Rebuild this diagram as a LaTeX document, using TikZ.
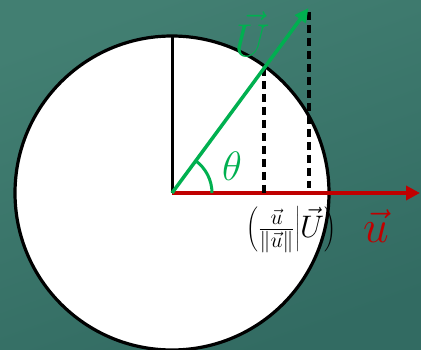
\documentclass[tikz,border=0pt]{standalone}
\usepackage{graphicx}
\usetikzlibrary{arrows.meta}
\definecolor{bgA}{RGB}{66,127,114}
\definecolor{bgB}{RGB}{50,107,98}
\definecolor{pgreen}{RGB}{0,176,80}
\definecolor{pred}{RGB}{192,0,0}
\tikzset{
  axis/.style={line width=3pt, black},
  vecU/.style={line width=3.5pt, pgreen, -{Triangle[length=14pt,width=13pt]}},
  vecu/.style={line width=4pt, pred, -{Triangle[length=14pt,width=14pt]}},
  proj/.style={line width=3.5pt, black, dash pattern=on 8pt off 5pt},
  lbl/.style={inner sep=0pt}
}
\begin{document}
\begin{tikzpicture}[x=1pt,y=-1pt]
\useasboundingbox (0,0) rectangle (421,350);
\shade[top color=bgA, bottom color=bgB, shading angle=20] (0,0) rectangle (421,350);
\coordinate (O) at (172,193);
\coordinate (N) at (172,37);
\coordinate (E) at (420,193);
\coordinate (T) at (308.5,8);
\coordinate (P) at (264,68);
\coordinate (Pf) at (264,196);
\coordinate (Tf) at (309,188);
\coordinate (Tt) at (309,12);
\fill[white] (O) circle (157);
\draw[line width=3.2pt] (O) circle (157);
\draw[axis] (O) -- (N);
\draw[vecu] (O) -- (E);
\draw[proj] (P) -- (Pf);
\draw[proj] (Tt) -- (Tf);
\draw[vecU] (O) -- (T);
\draw[pgreen, line width=3pt] ([shift={(40,0)}]O) arc[start angle=0, end angle=-53.7, radius=40];
\node[lbl, pgreen, font=\Huge] (lU) at (252,34) {\scalebox{1.85}{$\vec{U}$}};
\node[lbl, pgreen, font=\Huge] (lth) at (232,166) {\scalebox{1.65}{$\theta$}};
\node[lbl, pred, font=\Huge] (lu) at (376,226) {\scalebox{1.85}{$\vec{u}$}};
\node[lbl, black, font=\huge] (lp) at (291,230) {\scalebox{1.5}{$\left(\frac{\vec u}{\|\vec u\|}\middle|\vec U\right)$}};
\end{tikzpicture}
\end{document}
